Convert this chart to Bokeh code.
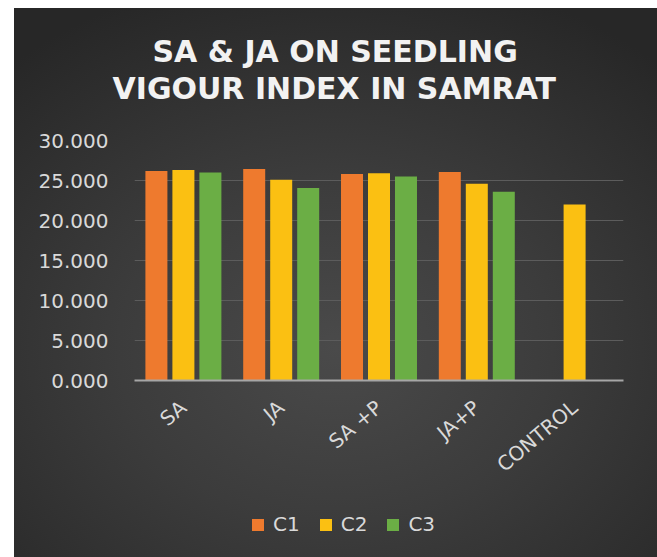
import numpy as np
from bokeh.plotting import figure
from bokeh.layouts import column
from bokeh.models import (ColumnDataSource, FactorRange, Range1d, FixedTicker,
                          NumeralTickFormatter, Title, Legend, LegendItem)
from bokeh.transform import dodge
from bokeh.embed import file_html
from bokeh.resources import INLINE

# ---- data ----
categories = ["SA", "JA", "SA +P", "JA+P", "CONTROL"]
c1 = [26.20, 26.45, 25.80, 26.05, np.nan]
c2 = [26.30, 25.10, 25.90, 24.60, 22.00]
c3 = [26.00, 24.05, 25.50, 23.60, np.nan]
series_names = ["C1", "C2", "C3"]
y_ticks = [0, 5, 10, 15, 20, 25, 30]
title_lines = ["SA & JA ON SEEDLING", "VIGOUR INDEX IN SAMRAT"]

colors = ["#EE7A2E", "#FBC012", "#6BAE45"]
TXT = "#d9d9d9"
FONT = "DejaVu Sans"
W = 643


def blank_fig(h, **kw):
    f = figure(width=W, height=h, x_range=Range1d(0, 1), y_range=Range1d(0, 1),
               x_axis_type=None, y_axis_type=None, output_backend="svg",
               toolbar_location=None, min_border=0, **kw)
    f.background_fill_color = None
    f.border_fill_color = None
    f.outline_line_color = None
    f.grid.visible = False
    return f


# ---- title (line 2 nearest the frame) ----
tfig = blank_fig(118, min_border_top=97)
for txt, off in [(title_lines[1], -22), (title_lines[0], 18)]:
    tfig.add_layout(Title(text=txt, align="left", offset=off, standoff=0,
                          text_font=FONT, text_font_style="bold",
                          text_font_size="30px", text_color="#f2f2f2"), "above")

# ---- main chart ----
source = ColumnDataSource(data=dict(cat=categories, C1=np.array(c1, dtype=float),
                                    C2=np.array(c2, dtype=float), C3=np.array(c3, dtype=float)))

p = figure(width=W, height=364, x_range=FactorRange(*categories, range_padding=0),
           y_range=Range1d(0, 30), output_backend="svg", toolbar_location=None,
           min_border_left=120, min_border_right=34, min_border_top=14, min_border_bottom=110)
p.background_fill_color = None
p.border_fill_color = None
p.outline_line_color = None

offsets = [-0.276, 0.0, 0.276]
for name, off, col in zip(series_names, offsets, colors):
    p.vbar(x=dodge("cat", off, range=p.x_range), top=name, width=0.225, source=source,
           fill_color=col, line_color=None)

p.yaxis.ticker = FixedTicker(ticks=y_ticks)
p.yaxis.formatter = NumeralTickFormatter(format="0.000")
p.yaxis.axis_line_color = None
p.yaxis.major_tick_line_color = None
p.yaxis.minor_tick_line_color = None
p.yaxis.major_label_text_color = TXT
p.yaxis.major_label_text_font = FONT
p.yaxis.major_label_text_font_size = "20px"
p.yaxis.major_label_standoff = 20

p.xaxis.axis_line_color = "#a6a6a6"
p.xaxis.axis_line_width = 2
p.xaxis.major_tick_line_color = None
p.xaxis.minor_tick_line_color = None
p.xaxis.major_label_text_color = TXT
p.xaxis.major_label_text_font = FONT
p.xaxis.major_label_text_font_size = "20px"
p.xaxis.major_label_orientation = 0.70
p.xaxis.major_label_standoff = 18

p.xgrid.grid_line_color = None
p.ygrid.grid_line_color = "#5c5c5c"
p.ygrid.grid_line_width = 1

# ---- legend ----
lfig = blank_fig(67)
items = []
for name, col in zip(series_names, colors):
    # zero-height swatch renderer; only its legend entry shows
    r = lfig.vbar(x=[0.5], top=[0], bottom=[0], width=0.01, fill_color=col, line_color=None)
    items.append(LegendItem(label=name, renderers=[r]))
legend = Legend(items=items, orientation="horizontal", location=(116, 21),
                background_fill_color=None, border_line_color=None,
                label_text_color=TXT, label_text_font=FONT,
                label_text_font_size="20px", glyph_width=15, glyph_height=15,
                label_standoff=8, spacing=18, padding=0, margin=0)
lfig.add_layout(legend, "center")

layout = column(tfig, p, lfig, spacing=0,
                styles={"background": "radial-gradient(ellipse 75% 70% at 50% 62%, #4a4a4a 0%, #3c3c3c 45%, #272727 100%)",
                        "margin-left": "14px", "margin-top": "8px"})

open("out.html", "w").write(file_html(layout, INLINE))
